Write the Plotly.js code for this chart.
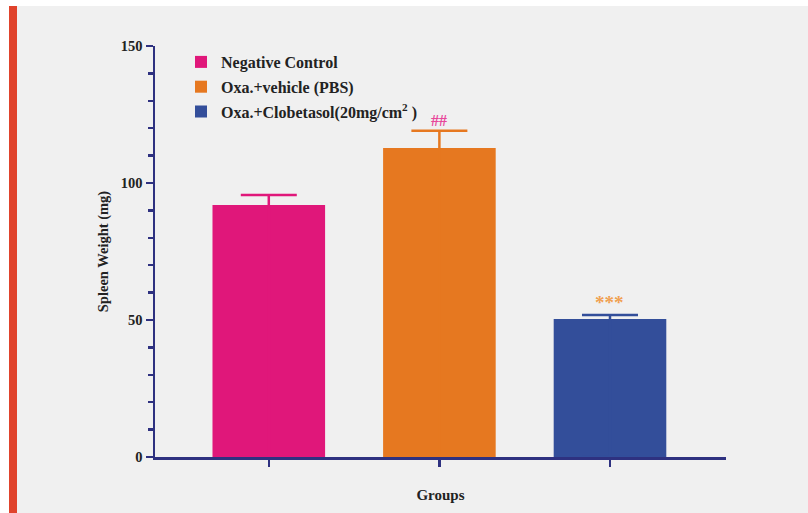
<!DOCTYPE html>
<html>
<head>
<meta charset="utf-8">
<script src="https://cdn.plot.ly/plotly-3.0.1.min.js"></script>
<style>html,body{margin:0;padding:0;background:#fff;}#chart{width:808px;height:513px;}</style>
</head>
<body>
<div id="chart"></div>
<script>
const groups = ["Negative Control", "Oxa.+vehicle (PBS)", "Oxa.+Clobetasol(20mg/cm<sup>2</sup> )"];
const positions = [0, 1, 2];
const means = [92, 112.8, 50.4];
const sems = [3.6, 6.3, 1.4];
const colors = ["#e0177a", "#e67820", "#334e9a"];
const marks = ["", "##", "***"];
const markColors = ["#e8479a", "#e8479a", "#f0a050"];

const axisColor = "#2e3180";
const font = "Liberation Serif, Times New Roman, serif";

// Only the upper error bar is shown: the lower arm runs down to the baseline,
// hidden inside the bar (same colour) and under the x axis line.
const traces = groups.map((g, i) => ({
  type: "bar",
  name: g,
  x: [positions[i]],
  y: [means[i]],
  width: 0.66,
  marker: {color: colors[i], line: {width: 0}},
  error_y: {type: "data", symmetric: false, array: [sems[i]], arrayminus: [means[i]], color: colors[i], thickness: 2.5, width: 28},
  cliponaxis: true,
  legendgroup: "g" + i,
  hoverinfo: "skip"
}));

const annotations = marks.map((m, i) => m ? ({
  x: positions[i], y: means[i] + sems[i], xref: "x", yref: "y",
  text: "<b>" + m + "</b>", showarrow: false, yanchor: "bottom", yshift: 0,
  font: {family: font, size: i === 2 ? 19 : 16, color: markColors[i]}
}) : null).filter(a => a);

const L = 155, R = 726, T = 46, B = 457;
const px2x = p => (p - L) / (R - L);
const py2y = p => (B - p) / (B - T);

const layout = {
  width: 808, height: 513,
  margin: {l: L, r: 808 - R, t: T, b: 513 - B},
  paper_bgcolor: "#ffffff",
  plot_bgcolor: "rgba(0,0,0,0)",
  barmode: "overlay",
  showlegend: true,
  legend: {
    x: px2x(181), y: py2y(45), xanchor: "left", yanchor: "top",
    bgcolor: "rgba(0,0,0,0)", tracegroupgap: 1,
    font: {family: font, size: 16, color: "#222", weight: "bold"}
  },
  font: {family: font, color: "#222"},
  xaxis: {
    range: [-0.667, 2.68], tickvals: positions, showticklabels: false,
    ticks: "outside", ticklen: 7, tickwidth: 2.5, tickcolor: axisColor,
    showline: true, linecolor: axisColor, linewidth: 2.5, showgrid: false, zeroline: false,
    title: {text: "<b>Groups</b>", font: {family: font, size: 15, color: "#222"}, standoff: 24},
    automargin: false, fixedrange: true
  },
  yaxis: {
    range: [0, 150], tickvals: [0, 50, 100, 150], ticktext: ["<b>0</b>", "<b>50</b>", "<b>100</b>", "<b>150</b>"],
    ticks: "outside", ticklen: 7, tickwidth: 2.5, tickcolor: axisColor,
    minor: {dtick: 10, ticks: "outside", ticklen: 5, tickwidth: 2.5, tickcolor: axisColor, showgrid: false},
    tickfont: {family: font, size: 14.5, color: "#222"},
    showline: true, linecolor: axisColor, linewidth: 2.5, showgrid: false, zeroline: false,
    title: {text: "<b>Spleen Weight (mg)</b>", font: {family: font, size: 14.5, color: "#222"}, standoff: 9},
    automargin: false, fixedrange: true
  },
  shapes: [
    {type: "rect", xref: "paper", yref: "paper", x0: px2x(17), x1: px2x(808), y0: py2y(6), y1: py2y(513),
     fillcolor: "#f0f0f0", line: {width: 0}, layer: "below"},
    {type: "rect", xref: "paper", yref: "paper", x0: px2x(9), x1: px2x(17), y0: py2y(6), y1: py2y(513),
     fillcolor: "#e0432c", line: {width: 0}, layer: "below"}
  ],
  annotations: annotations
};

Plotly.newPlot("chart", traces, layout, {displayModeBar: false, staticPlot: true});
</script>
</body>
</html>
